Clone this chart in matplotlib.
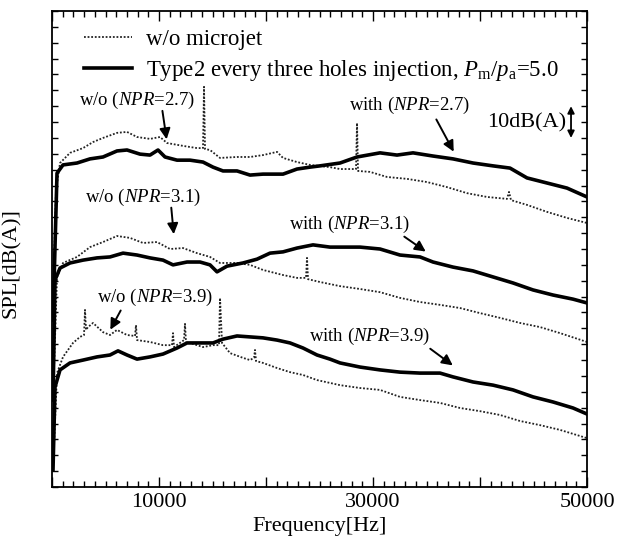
import matplotlib
matplotlib.use("Agg")
import matplotlib.pyplot as plt
from matplotlib.ticker import MultipleLocator, FixedLocator, FixedFormatter

plt.rcParams['font.family'] = ['Liberation Serif', 'DejaVu Serif']
plt.rcParams['mathtext.fontset'] = 'custom'
plt.rcParams['mathtext.rm'] = 'Liberation Serif'
plt.rcParams['mathtext.it'] = 'Liberation Serif:italic'

# ---- data (frequency in Hz, SPL in dB(A), arbitrary offset) ----
f_wo27 = [93, 374, 748, 1682, 2897, 3832, 4766, 6075, 7009, 7944, 9159, 10093, 10748,
          12243, 13552, 14112, 14206, 14299, 14766, 15701, 17290, 18505, 19720, 21029,
          21589, 22898, 24112, 25981, 26916, 28411, 28505, 28598, 29720, 31309, 33178,
          35047, 36916, 38785, 40654, 42523, 42710, 42897, 44393, 46262, 48131, 50000]
spl_wo27 = [58.9, 93.6, 102.1, 105.3, 106.8, 108.7, 110.0, 111.6, 111.9, 110.3, 109.7, 110.3,
            108.4, 107.5, 106.8, 106.8, 126.1, 106.5, 106.2, 103.7, 104.0, 104.0, 104.6,
            105.6, 103.7, 102.4, 101.5, 100.8, 100.2, 100.2, 114.7, 99.6, 99.3, 97.7, 97.1,
            96.1, 94.5, 92.6, 91.4, 90.8, 93.0, 90.4, 88.9, 86.7, 84.8, 83.2]

f_w27 = [93, 467, 1028, 2336, 3551, 4766, 6075, 7009, 8224, 9159, 9907, 10561, 11682,
         12897, 14112, 15047, 15981, 17290, 18505, 19720, 21589, 22898, 24112, 25047,
         26916, 28505, 30654, 32243, 33738, 35607, 37477, 39346, 41215, 42804, 44393,
         46262, 48131, 50000]
spl_w27 = [52.6, 98.9, 101.5, 102.1, 103.4, 104.0, 105.9, 106.2, 104.9, 104.6, 106.2, 104.0,
           103.0, 103.0, 102.4, 100.8, 99.6, 99.6, 98.3, 98.6, 98.6, 100.2, 100.8, 101.2,
           102.1, 104.0, 105.3, 104.6, 105.3, 104.3, 103.4, 102.1, 101.2, 100.5, 97.4,
           95.8, 94.2, 91.4]

f_wo31 = [93, 467, 1028, 2336, 3551, 4766, 6075, 7290, 8505, 9813, 11028, 12243, 13552,
          14766, 15701, 17290, 18505, 19720, 21589, 22898, 23738, 23832, 23925, 25047,
          26916, 28785, 30654, 32523, 34393, 36262, 38131, 40000, 41869, 43738, 45607,
          47477, 50000]
spl_wo31 = [27.4, 66.2, 70.6, 72.5, 75.6, 77.2, 79.1, 78.5, 76.9, 77.2, 75.0, 75.3, 73.7,
            72.5, 70.6, 70.6, 70.0, 68.4, 66.8, 65.9, 65.9, 72.2, 65.5, 64.6, 63.3, 62.4,
            61.4, 59.6, 58.3, 57.4, 56.4, 54.8, 53.3, 51.7, 50.4, 48.5, 45.7]

f_w31 = [93, 280, 748, 1682, 2897, 4206, 5421, 6636, 7944, 9159, 10374, 11308, 12617,
         13832, 14766, 15421, 16355, 17850, 19159, 20374, 21589, 22898, 24393, 25981,
         26916, 28785, 30654, 32523, 34393, 35607, 37477, 39346, 41215, 43084, 44953,
         46822, 48692, 50000]
spl_w31 = [27.4, 65.2, 69.0, 70.6, 71.5, 72.2, 72.5, 73.7, 73.1, 72.2, 71.5, 70.0, 70.9,
           70.9, 70.0, 67.8, 69.6, 70.6, 71.8, 73.7, 74.1, 75.3, 76.3, 75.6, 75.6, 75.6,
           75.0, 73.1, 72.5, 70.9, 69.3, 68.1, 66.2, 64.3, 62.1, 60.5, 59.2, 58.0]

f_wo39 = [93, 467, 1028, 1963, 2617, 2991, 3084, 3178, 3364, 3832, 4766, 5421, 6075,
          7009, 7757, 7850, 7944, 9159, 10374, 11215, 11308, 11402, 12336, 12430, 12523,
          12897, 14112, 15047, 15607, 15701, 15888, 16636, 17850, 18505, 18879, 18972,
          19065, 19720, 21029, 22243, 23458, 24766, 25981, 26916, 28785, 30654, 32523,
          34393, 36262, 38131, 40000, 41869, 43738, 45607, 47477, 50000]
spl_wo39 = [5.4, 35.9, 41.0, 45.4, 47.3, 47.9, 55.8, 49.5, 50.4, 51.7, 48.8, 47.9, 49.5,
            47.9, 47.6, 51.0, 46.3, 45.7, 44.7, 44.7, 48.5, 44.1, 46.3, 51.4, 45.4, 45.4,
            44.1, 44.7, 44.7, 59.6, 45.4, 42.2, 40.7, 40.0, 40.7, 43.2, 39.7, 39.1, 37.5,
            36.2, 35.3, 33.7, 32.8, 32.1, 31.2, 30.6, 28.4, 27.4, 26.5, 24.9, 23.9, 22.7,
            20.8, 19.5, 18.0, 15.4]

f_w39 = [93, 280, 748, 1682, 2897, 4206, 5421, 6168, 7009, 7944, 9159, 10374, 11682,
         12617, 13832, 15047, 15981, 17290, 18505, 19720, 21029, 22243, 23458, 24766,
         25981, 26916, 28785, 30654, 32523, 34393, 36262, 37477, 39346, 41215, 43084,
         44953, 46822, 48692, 50000]
spl_w39 = [5.4, 31.5, 36.9, 39.1, 40.0, 41.0, 41.6, 42.9, 41.6, 40.3, 41.0, 41.9, 43.8,
           45.4, 45.4, 45.4, 46.6, 47.6, 47.3, 47.0, 46.3, 45.4, 43.8, 41.6, 40.3, 39.1,
           37.8, 36.9, 36.2, 35.9, 35.9, 34.7, 33.1, 32.1, 30.6, 28.4, 26.8, 24.9, 23.0]

x_ticks = [0, 10000, 20000, 30000, 40000, 50000]
x_tick_labels = ['', '10000', '', '30000', '', '50000']

# (text, text pos, arrow tail, arrow tip)
notes = [
    ("w/o ($\\mathit{NPR}$=2.7)", (7944, 121.9), (10280, 119.4), (10748, 108.7)),
    ("w/o ($\\mathit{NPR}$=3.1)", (8505, 91.1), (11122, 88.9), (11402, 78.8)),
    ("w/o ($\\mathit{NPR}$=3.9)", (9626, 59.6), (6542, 56.4), (5327, 48.8)),
    ("with ($\\mathit{NPR}$=2.7)", (33458, 120.4), (35794, 116.6), (37664, 104.9)),
    ("with ($\\mathit{NPR}$=3.1)", (27850, 82.9), (32710, 79.4), (35140, 73.7)),
    ("with ($\\mathit{NPR}$=3.9)", (29720, 47.3), (35140, 44.1), (37664, 37.8)),
]

fig = plt.figure(figsize=(6.17, 5.45), dpi=100)
ax = fig.add_axes([0.0843, 0.1064, 0.8671, 0.8734])

dot = dict(color='#222222', lw=1.3, ls=(0, (1.0, 1.0)))
sol = dict(color='k', lw=2.6)

ax.plot(f_wo27, spl_wo27, label='w/o microjet', **dot)
ax.plot(f_w27, spl_w27,
        label='Type2 every three holes injection, $P_{\\mathrm{m}}/p_{\\mathrm{a}}$=5.0', **sol)
ax.plot(f_wo31, spl_wo31, **dot)
ax.plot(f_w31, spl_w31, **sol)
ax.plot(f_wo39, spl_wo39, **dot)
ax.plot(f_w39, spl_w39, **sol)

for txt, pos, tail, tip in notes:
    ax.text(pos[0], pos[1], txt, fontsize=13.5, ha='center', va='center')
    ax.annotate('', xy=tip, xytext=tail,
                arrowprops=dict(arrowstyle='-|>', color='k', lw=1.4, mutation_scale=16))

# 10 dB scale bar
ax.text(44393, 114.7, '10dB(A)', fontsize=16, ha='center', va='center')
ax.annotate('', xy=(48505, 120.0), xytext=(48505, 110.0),
            arrowprops=dict(arrowstyle='<|-|>', color='k', lw=1.3, mutation_scale=10,
                            shrinkA=0, shrinkB=0))

ax.set_xlim(0, 50000)
ax.set_ylim(0, 150)
ax.xaxis.set_major_locator(FixedLocator(x_ticks))
ax.xaxis.set_major_formatter(FixedFormatter(x_tick_labels))
ax.xaxis.set_minor_locator(MultipleLocator(1000))
ax.yaxis.set_major_locator(MultipleLocator(5))
ax.set_yticklabels([])
ax.tick_params(which='both', direction='in', top=True, right=True, width=1.0)
ax.tick_params(axis='x', which='major', length=7, labelsize=16, pad=4)
ax.tick_params(axis='x', which='minor', length=4)
ax.tick_params(axis='y', which='major', length=4)
for s in ax.spines.values():
    s.set_linewidth(1.3)

ax.set_xlabel('Frequency[Hz]', fontsize=16, labelpad=4)
ax.set_ylabel('SPL[dB(A)]', fontsize=16)
ax.yaxis.set_label_coords(-0.058, 0.47)

ax.legend(loc='center left', bbox_to_anchor=(0.06, 0.905), frameon=False, fontsize=16.5,
          handlelength=2.1, handletextpad=0.6, labelspacing=0.35, borderpad=0,
          borderaxespad=0)

plt.savefig('out.png', dpi=100)
